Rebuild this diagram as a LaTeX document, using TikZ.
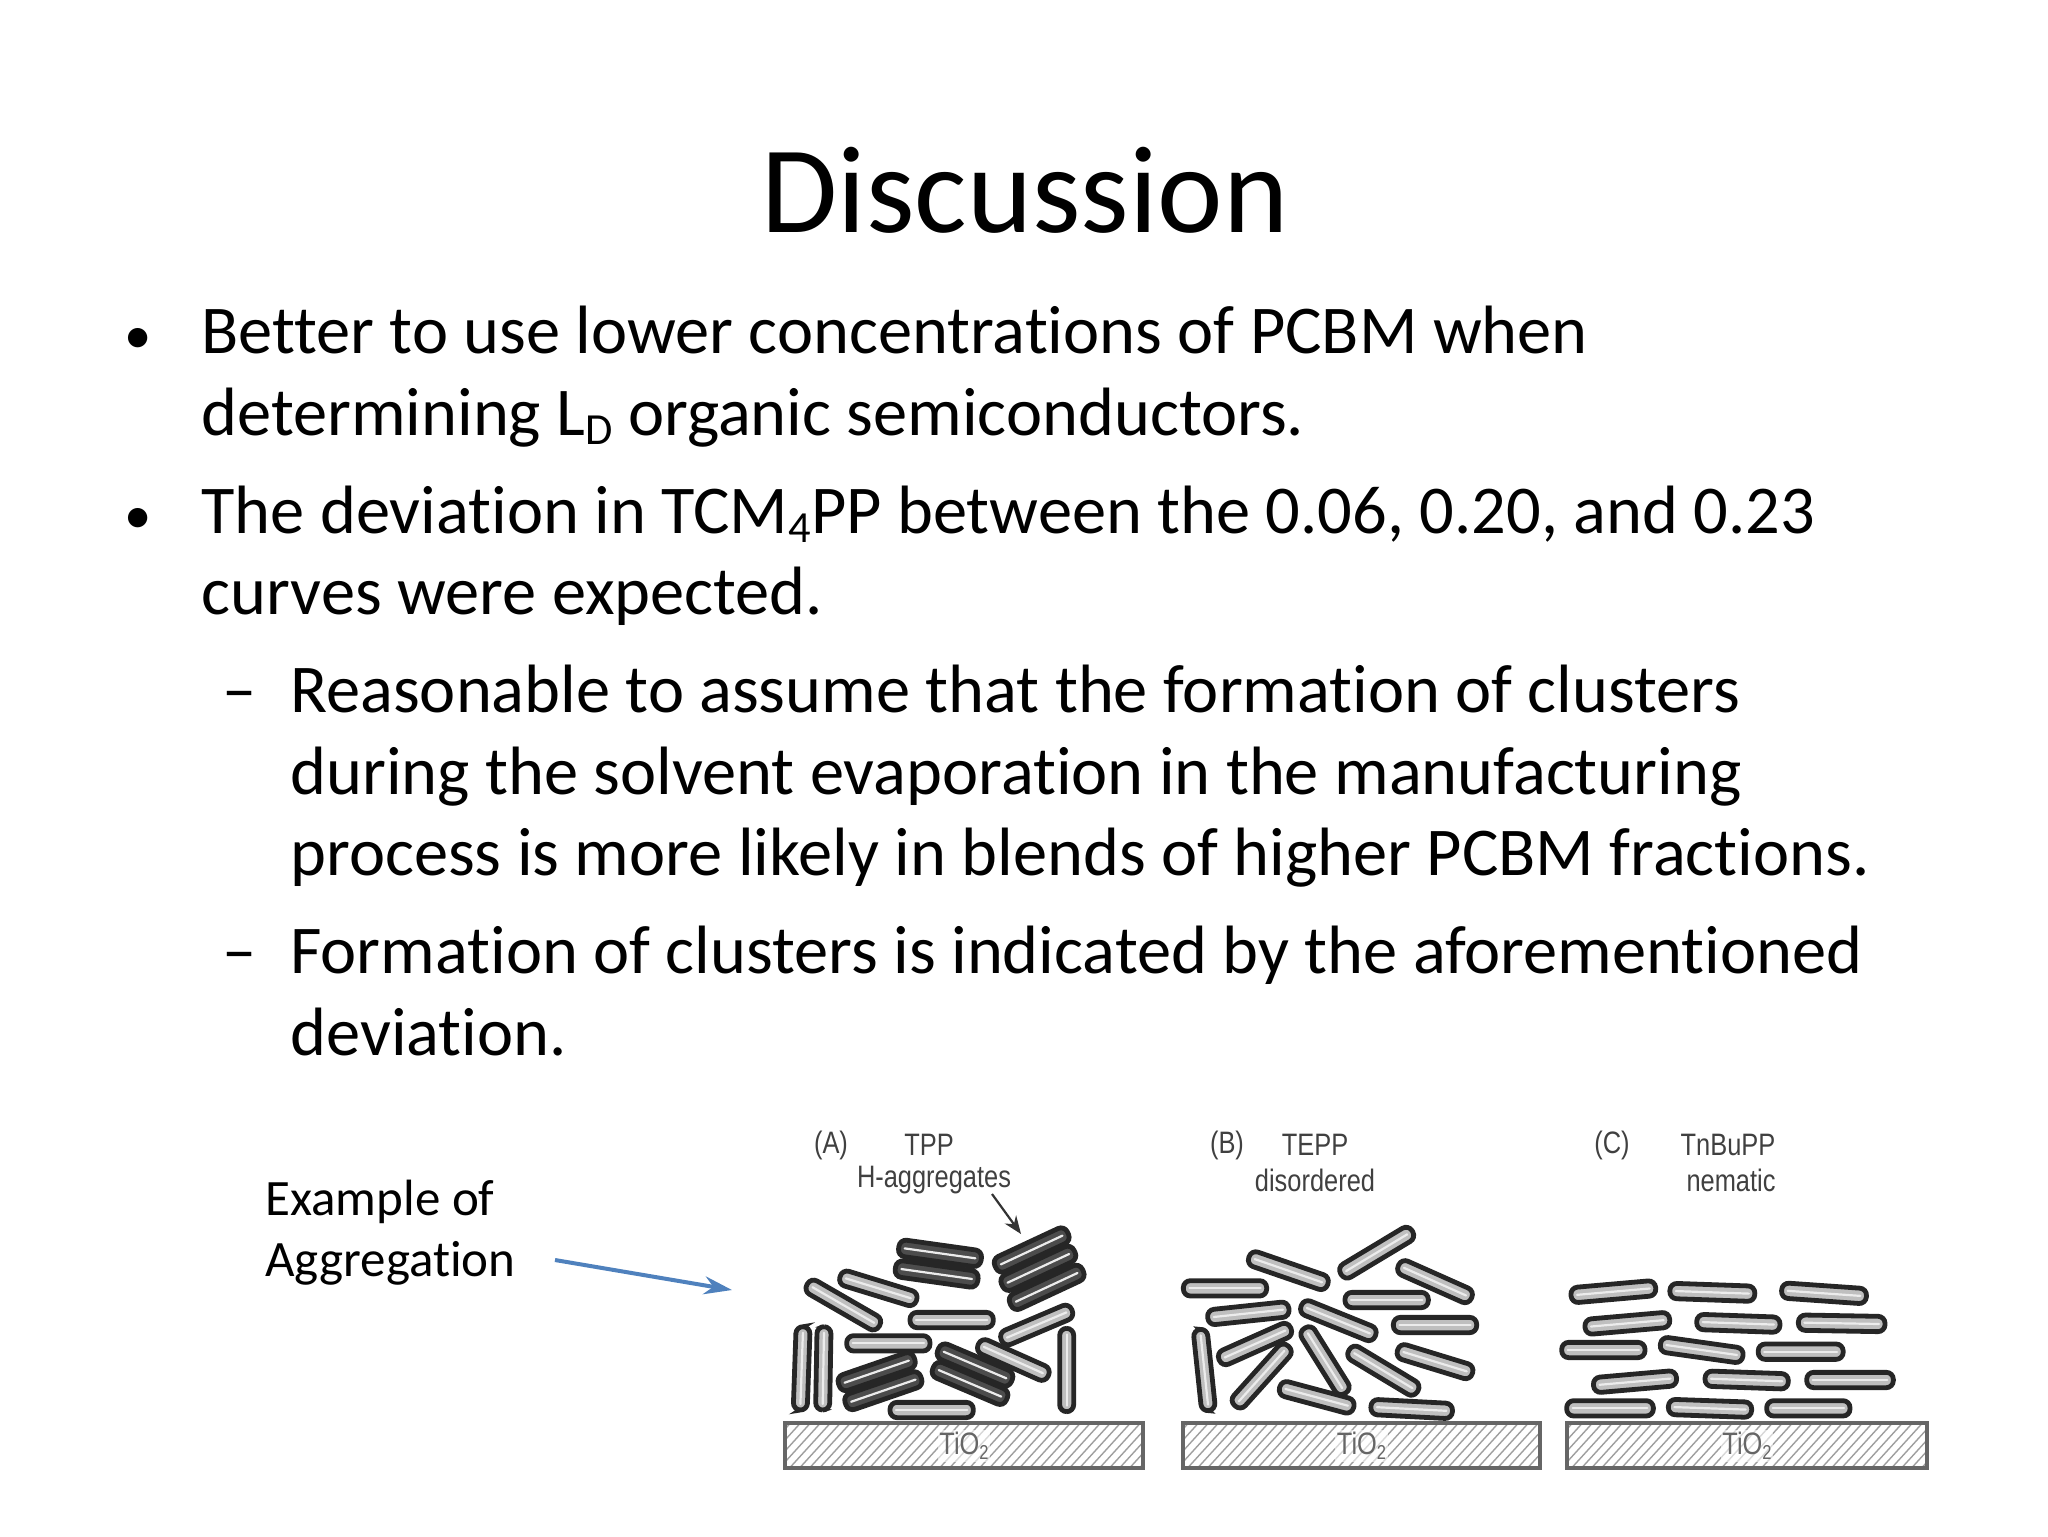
\documentclass[tikz,border=0pt]{standalone}
\usepackage{fontspec}
\setmainfont[Ligatures=NoCommon]{Carlito}
\newfontfamily\figfont{Liberation Sans}
\usetikzlibrary{arrows.meta}
\newcommand\sbs[1]{\raisebox{-0.3ex}{\scalebox{0.65}{#1}}}
\newcommand\rodd[6]{% cx cy angle length width fill (scope coords)
  \begin{scope}[rotate around={#3:(#1,#2)}]
    \filldraw[draw=black!85,line width=2.4pt,fill=#6,rounded corners=3.5pt] (#1-#4/2,#2-#5/2) rectangle (#1+#4/2,#2+#5/2);
    \draw[white!85!gray,line width=1.1pt,line cap=round] (#1-#4/2+18,#2) -- (#1+#4/2-18,#2);
  \end{scope}}
\newcommand\rod[4]{\rodd{#1}{#2}{#3}{#4}{46}{gray!50}}
\newcommand\drod[4]{\rodd{#1}{#2}{#3}{#4}{50}{black!70}}
\tikzset{
  body/.style={anchor=base west,inner sep=0pt,font=\fontsize{34.2}{41}\selectfont},
  small/.style={anchor=base west,inner sep=0pt,font=\fontsize{25.5}{30}\selectfont},
  flab/.style={inner sep=0pt,text=black!75,font=\figfont\fontsize{15.5}{18}\selectfont,xscale=0.82},
  subbox/.style={draw=black!60,line width=1.6pt},
  hatch/.style={gray!75,line width=0.7pt}
}
\begin{document}
\begin{tikzpicture}[x=0.5pt,y=-0.5pt]
\useasboundingbox (0,0) rectangle (2048,1536);
\node[inner sep=0pt,anchor=base,font=\fontsize{62}{74}\selectfont] (title) at (1025,232) {Discussion};
\node[body] (b1) at (124,353) {\scalebox{0.8}{•}};
\node[body] (l1) at (201,353) {Better to use lower concentrations of PCBM when};
\node[body] (l2) at (201,435) {determining L\sbs{D} organic semiconductors.};
\node[body] (b2) at (124,533) {\scalebox{0.8}{•}};
\node[body] (l3) at (201,533) {The deviation in TCM\sbs{4}PP between the 0.06, 0.20, and 0.23};
\node[body] (l4) at (201,614) {curves were expected.};
\node[body] (d1) at (222,712) {–};
\node[body] (l5) at (290,712) {Reasonable to assume that the formation of clusters};
\node[body] (l6) at (290,794) {during the solvent evaporation in the manufacturing};
\node[body] (l7) at (290,875) {process is more likely in blends of higher PCBM fractions.};
\node[body] (d2) at (222,973) {–};
\node[body] (l8) at (290,973) {Formation of clusters is indicated by the aforementioned};
\node[body] (l9) at (290,1055) {deviation.};
\node[small] (e1) at (265,1215) {Example of};
\node[small] (e2) at (265,1276) {Aggregation};
\coordinate (as) at (555,1260);
\coordinate (ae) at (732,1290);
\draw[-{Stealth[length=14pt,width=9pt]},line width=2pt,color={rgb,255:red,79;green,129;blue,189}] (as) -- (ae);
% labels
\node[flab] (la) at (831,1145) {(A)};
\node[flab] (ta) at (929,1145) {TPP};
\node[flab] (ha) at (934,1180) {H-aggregates};
\node[flab] (lb) at (1227,1145) {(B)};
\node[flab] (tb) at (1315,1145) {TEPP};
\node[flab] (db) at (1315,1180) {disordered};
\node[flab] (lc) at (1612,1145) {(C)};
\node[flab] (tc) at (1728,1145) {TnBuPP};
\node[flab] (nc) at (1731,1180) {nematic};
\coordinate (hs) at (992,1194);
\coordinate (he) at (1021,1234);
\draw[-{Stealth[length=9pt,width=7pt]},line width=1.1pt,black!80] (hs) -- (he);
% substrates
\foreach \a/\b in {785/1143,1183/1540,1567/1927}{
  \begin{scope}
    \clip (\a,1423) rectangle (\b,1468);
    \foreach \k in {0,10,...,400}{
      \draw[hatch] (\a+\k-50,1473) -- (\a+\k,1418);
    }
  \end{scope}
  \draw[subbox] (\a,1423) rectangle (\b,1468);
  \node[flab,text=black!60,fill=white,fill opacity=0.6,text opacity=1,inner sep=1pt] at ({(\a+\b)/2},1446) {TiO\sbs{2}};
}
% panel A
\begin{scope}[shift={(780,1200)},scale=1/3]
  \rodd{65}{505}{88}{250}{42}{gray!50}
  \rodd{130}{505}{89}{250}{42}{gray!50}
  \rodd{860}{510}{90}{250}{42}{gray!50}
  \rod{295}{265}{-17}{240}
  \rod{190}{315}{-30}{250}
  \rod{515}{360}{0}{250}
  \rod{325}{430}{0}{250}
  \rod{770}{375}{23}{230}
  \rod{700}{480}{-24}{230}
  \drod{480}{160}{-8}{250}
  \drod{470}{222}{-8}{250}
  \drod{755}{150}{25}{240}
  \drod{775}{205}{25}{240}
  \drod{800}{262}{25}{240}
  \drod{290}{515}{19}{240}
  \drod{310}{572}{19}{240}
  \drod{585}{495}{-23}{240}
  \drod{570}{550}{-23}{240}
  \rod{455}{630}{0}{250}
\end{scope}
% panel B
\begin{scope}[shift={(1170,1200)},scale=1/3]
  \rod{165}{265}{0}{250}
  \rod{355}{212}{-19}{250}
  \rod{620}{158}{31}{250}
  \rod{795}{245}{-24}{240}
  \rod{650}{300}{0}{250}
  \rod{795}{375}{0}{250}
  \rodd{103}{510}{96}{245}{42}{gray!50}
  \rod{255}{432}{24}{235}
  \rod{275}{528}{48}{240}
  \rod{465}{482}{-58}{230}
  \rod{235}{340}{6}{245}
  \rod{505}{362}{-22}{240}
  \rod{640}{512}{-31}{240}
  \rod{795}{485}{-17}{235}
  \rod{440}{592}{-15}{230}
  \rod{725}{627}{-3}{245}
\end{scope}
% panel C
\begin{scope}[shift={(1560,1200)},scale=1/3]
  \rod{160}{275}{5}{255}
  \rod{457}{277}{-2}{255}
  \rod{792}{280}{-4}{255}
  \rod{202}{370}{5}{255}
  \rod{535}{370}{-2}{250}
  \rod{845}{370}{-1}{260}
  \rod{130}{450}{0}{250}
  \rod{425}{450}{-8}{250}
  \rod{722}{455}{0}{255}
  \rod{225}{545}{5}{250}
  \rod{560}{540}{-2}{250}
  \rod{870}{540}{0}{260}
  \rod{150}{625}{0}{260}
  \rod{450}{625}{-2}{250}
  \rod{745}{625}{0}{250}
\end{scope}
\end{tikzpicture}
\end{document}
